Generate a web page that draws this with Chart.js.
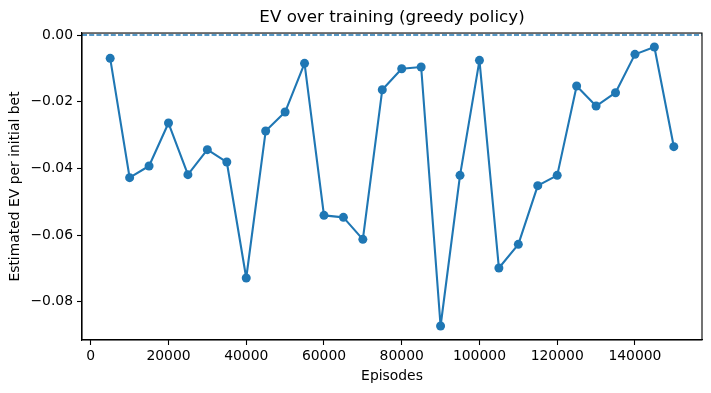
<!DOCTYPE html>
<html>
<head>
<meta charset="utf-8">
<script src="https://cdn.jsdelivr.net/npm/chart.js@4.4.1/dist/chart.umd.min.js"></script>
<style>
  body { margin: 0; background: #fff; }
  #wrap { width: 711px; height: 393px; }
</style>
</head>
<body>
<div id="wrap"><canvas id="evChart" width="711" height="393"></canvas></div>
<script>
// chart data
const episodes = [5000, 10000, 15000, 20000, 25000, 30000, 35000, 40000, 45000, 50000,
    55000, 60000, 65000, 70000, 75000, 80000, 85000, 90000, 95000, 100000,
    105000, 110000, 115000, 120000, 125000, 130000, 135000, 140000, 145000, 150000];
const evValues = [-0.0070, -0.0428, -0.0393, -0.0264, -0.0419, -0.0344, -0.0381, -0.0729, -0.0288, -0.0231,
    -0.0085, -0.0541, -0.0547, -0.0613, -0.0164, -0.0101, -0.0096, -0.0873, -0.0421, -0.0076,
    -0.0699, -0.0628, -0.0452, -0.0421, -0.0153, -0.0213, -0.0173, -0.0058, -0.0036, -0.0335];
const xTicks = [0, 20000, 40000, 60000, 80000, 100000, 120000, 140000];
const yTicks = [-0.08, -0.06, -0.04, -0.02, 0.00];
const xRange = [-2250, 157250];
const yRange = [-0.0915, 0.0006];
const refLine = 0;

const blue = '#1f77b4';
const font = 'DejaVu Sans';

// matplotlib draws all four spines
const framePlugin = {
    id: 'frame',
    afterDraw(chart) {
        const a = chart.chartArea;
        const ctx = chart.ctx;
        ctx.save();
        ctx.strokeStyle = '#000';
        ctx.lineWidth = 1.1;
        ctx.strokeRect(a.left, a.top, a.right - a.left, a.bottom - a.top);
        ctx.restore();
    }
};

const ctx = document.getElementById('evChart').getContext('2d');
new Chart(ctx, {
    type: 'line',
    data: {
        datasets: [
            {
                label: 'EV',
                data: episodes.map((e, i) => ({ x: e, y: evValues[i] })),
                borderColor: blue,
                backgroundColor: blue,
                borderWidth: 2.1,
                borderJoinStyle: 'round',
                borderCapStyle: 'round',
                pointRadius: 4.5,
                pointBorderWidth: 0,
                pointBackgroundColor: blue,
                tension: 0,
                fill: false
            },
            {
                label: 'zero',
                data: [{ x: xRange[0], y: refLine }, { x: xRange[1], y: refLine }],
                borderColor: blue,
                borderWidth: 1.4,
                borderDash: [5, 2.2],
                pointRadius: 0,
                fill: false
            }
        ]
    },
    options: {
        responsive: false,
        animation: false,
        devicePixelRatio: 1,
        layout: { padding: { left: 0, right: 9, top: 0, bottom: 0 } },
        scales: {
            x: {
                type: 'linear',
                min: xRange[0],
                max: xRange[1],
                afterBuildTicks: s => { s.ticks = xTicks.map(v => ({ value: v })); },
                afterFit: s => { s.height = 53; },
                grid: { drawOnChartArea: false, tickLength: 5, tickColor: '#000', tickWidth: 1.1 },
                border: { color: '#000', width: 1.1 },
                ticks: {
                    color: '#000',
                    font: { family: font, size: 13.9 },
                    padding: 3,
                    maxRotation: 0,
                    autoSkip: false,
                    callback: v => String(v)
                },
                title: {
                    display: true,
                    text: 'Episodes',
                    color: '#000',
                    font: { family: font, size: 13.9 },
                    padding: { top: 0, bottom: 8 }
                }
            },
            y: {
                min: yRange[0],
                max: yRange[1],
                afterBuildTicks: s => { s.ticks = yTicks.map(v => ({ value: v })); },
                afterFit: s => { s.width = 82; },
                grid: { drawOnChartArea: false, tickLength: 5, tickColor: '#000', tickWidth: 1.1 },
                border: { color: '#000', width: 1.1 },
                ticks: {
                    color: '#000',
                    font: { family: font, size: 13.9 },
                    padding: 4,
                    autoSkip: false,
                    callback: v => v.toFixed(2).replace('-', '\u2212')
                },
                title: {
                    display: true,
                    text: 'Estimated EV per initial bet',
                    color: '#000',
                    font: { family: font, size: 13.9 },
                    padding: { top: 7, bottom: 0 }
                }
            }
        },
        plugins: {
            legend: { display: false },
            tooltip: { enabled: false },
            title: {
                display: true,
                text: 'EV over training (greedy policy)',
                fullSize: false,
                color: '#000',
                font: { family: font, size: 16.7, weight: 'normal' },
                padding: { top: 8, bottom: 5 }
            }
        }
    },
    plugins: [framePlugin]
});
</script>
</body>
</html>
